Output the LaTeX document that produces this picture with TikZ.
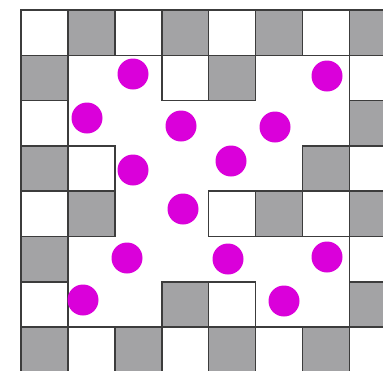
\documentclass[tikz,border=0pt]{standalone}
\definecolor{dotcol}{RGB}{218,0,218}
\definecolor{cellgray}{RGB}{163,163,165}
\definecolor{edgecol}{RGB}{60,60,60}
\begin{document}
\begin{tikzpicture}[x=1pt,y=-1pt,
  cellw/.style={fill=white,draw=edgecol,line width=1.6pt},
  cellg/.style={fill=cellgray,draw=edgecol,line width=1.6pt},
  dot/.style={circle,fill=dotcol,inner sep=0pt,minimum size=31pt}]
\useasboundingbox (0,0) rectangle (383,370);
\clip (0,0) rectangle (383,370);
\fill[white] (0,0) rectangle (383,370);
\def\cw{46.9}\def\ch{45.3}
\foreach \r/\c in {0/0,0/1,0/2,0/3,0/4,0/5,0/6,0/7,
  1/0,1/3,1/4,1/7, 2/0,2/7, 3/0,3/1,3/6,3/7,
  4/0,4/1,4/4,4/5,4/6,4/7, 5/0,5/7, 6/0,6/3,6/4,6/7,
  7/0,7/1,7/2,7/3,7/4,7/5,7/6,7/7}{
  \pgfmathtruncatemacro{\parity}{mod(\r+\c,2)}
  \ifnum\parity=1
    \draw[cellg] ({21+\c*\cw},{10+\r*\ch}) rectangle ++(\cw,\ch);
  \else
    \draw[cellw] ({21+\c*\cw},{10+\r*\ch}) rectangle ++(\cw,\ch);
  \fi
}
\foreach \x/\y [count=\i] in {133/74,327/76,87/118,181/126,275/127,133/170,231/161,183/209,127/258,228/259,327/257,83/300,284/301}{
  \node[dot] (d\i) at (\x,\y) {};
}
\end{tikzpicture}
\end{document}
